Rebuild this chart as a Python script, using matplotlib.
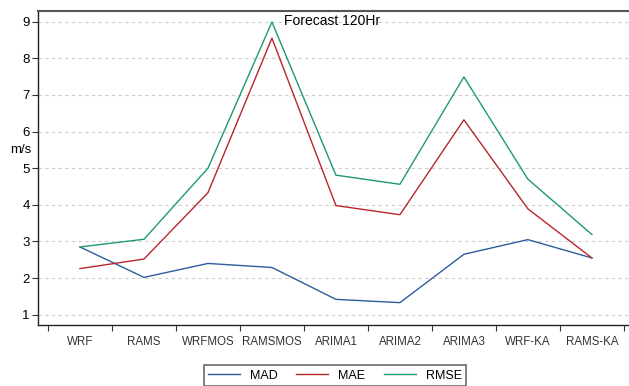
import matplotlib
matplotlib.use('Agg')
import matplotlib.pyplot as plt
import numpy as np

plt.rcParams['font.family'] = ['Liberation Sans', 'DejaVu Sans']

models = ['WRF', 'RAMS', 'WRFMOS', 'RAMSMOS', 'ARIMA1', 'ARIMA2', 'ARIMA3', 'WRF-KA', 'RAMS-KA']
mad = [2.85, 2.02, 2.40, 2.29, 1.42, 1.33, 2.65, 3.05, 2.55]
mae = [2.26, 2.52, 4.33, 8.55, 3.98, 3.73, 6.32, 3.89, 2.55]
rmse = [2.85, 3.06, 5.00, 8.99, 4.81, 4.56, 7.49, 4.70, 3.19]

fig = plt.figure(figsize=(6.29, 3.86), dpi=100)
ax = fig.add_axes([38/629, 1 - 325/386, 1 - 38/629, (325 - 11)/386])

x = np.arange(len(models))
ax.plot(x, mad, color='#2b5d9c', lw=1.0, label='MAD')
ax.plot(x, mae, color='#b8262b', lw=1.0, label='MAE')
ax.plot(x, rmse, color='#1f9a6e', lw=1.0, label='RMSE')

ax.set_xlim(-0.656, 8.58)
ax.set_ylim(0.72, 9.29)
ax.set_yticks(range(1, 10))
ax.set_xticks(np.arange(-0.5, 9.0, 1.0))
ax.set_xticklabels([])
ax.set_xticks(x, minor=True)
ax.set_xticklabels(models, minor=True, fontsize=8.3, color='#333333')
ax.tick_params(axis='x', which='minor', length=0, pad=8)
ax.tick_params(axis='x', which='major', direction='out', length=4, color='#333333')
ax.tick_params(axis='y', direction='out', length=4, labelsize=9.5, pad=2, color='#333333')

ax.yaxis.grid(True, linestyle=(0, (3, 3)), color='#cccccc', lw=0.8)
ax.set_axisbelow(True)

ax.spines['right'].set_visible(False)
for s in ['left', 'bottom', 'top']:
    ax.spines[s].set_color('#222222')
    ax.spines[s].set_linewidth(1.0)
ax.spines['top'].set_color('#555555')
ax.spines['top'].set_linewidth(1.5)

fig.text(10/629, 1 - 150/386, 'm/s', fontsize=9.5, va='center', ha='left')
ax.text((284 - 38)/591, 0.968, 'Forecast 120Hr', transform=ax.transAxes, fontsize=10, ha='left', va='center')

leg = fig.legend(loc='upper center', bbox_to_anchor=(335/629, 1 - 359/386), ncol=3,
                 fontsize=9, frameon=True, fancybox=False, handlelength=2.55,
                 columnspacing=1.5, borderpad=0.35, handletextpad=0.8)
leg.get_frame().set_edgecolor('#444444')
leg.get_frame().set_linewidth(1.2)

fig.savefig('out.png', dpi=100)
